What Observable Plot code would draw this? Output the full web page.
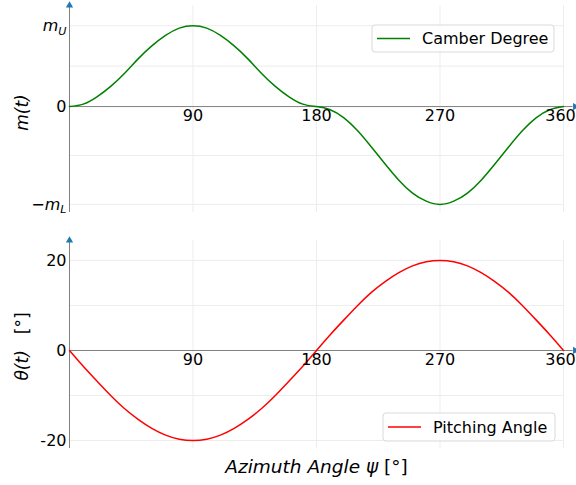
<!DOCTYPE html>
<html>
<head>
<meta charset="utf-8">
<script src="https://cdn.jsdelivr.net/npm/d3@7"></script>
<script src="https://cdn.jsdelivr.net/npm/@observablehq/plot@0.6"></script>
<style>
  body { margin: 0; background: #fff; }
  #chart { width: 576px; height: 485px; }
  #chart svg { display: block; font-family: "DejaVu Sans", sans-serif; background: #fff; }
</style>
</head>
<body>
<div id="chart"></div>
<script>
// Azimuth angle samples (degrees)
const psi = [0, 10, 20, 30, 40, 50, 60, 70, 80, 90, 100, 110, 120, 130, 140, 150, 160, 170, 180,
             190, 200, 210, 220, 230, 240, 250, 260, 270, 280, 290, 300, 310, 320, 330, 340, 350, 360];

// Camber degree m(t), in units of the upper camber m_U
const camber = [0, 0.03, 0.12, 0.25, 0.41, 0.59, 0.75, 0.88, 0.97, 1.00, 0.97, 0.88, 0.75, 0.59, 0.41, 0.25, 0.12, 0.03, 0,
                -0.04, -0.14, -0.30, -0.50, -0.71, -0.91, -1.07, -1.17, -1.21, -1.17, -1.07, -0.91, -0.71, -0.50, -0.30, -0.14, -0.04, 0];

// Pitching angle θ(t) in degrees
const pitch = [0, -3.5, -6.8, -10, -12.9, -15.3, -17.3, -18.8, -19.7, -20, -19.7, -18.8, -17.3, -15.3, -12.9, -10, -6.8, -3.5, 0,
               3.5, 6.8, 10, 12.9, 15.3, 17.3, 18.8, 19.7, 20, 19.7, 18.8, 17.3, 15.3, 12.9, 10, 6.8, 3.5, 0];

const mU = 1, mL = 1.21;
const xTicks = [90, 180, 270, 360];
const camberTicks = [mU, 0, -mL];
const camberTickLabels = ["mU", "0", "−mL"];
const camberGrid = [mU, mU / 2, -mL / 2, -mL];
const pitchTicks = [20, 0, -20];
const pitchTickLabels = ["20", "0", "-20"];
const pitchGrid = [20, 10, -10, -20];

const W = 576;
const gridColor = "#ebebeb", axisColor = "#808080", arrowColor = "#1f77b4";
const tickFont = 16;

function panel({values, color, height, marginTop, marginBottom, yDomain, ticks, tickLabels, grid, extra}) {
  const rows = psi.map((p, i) => ({psi: p, v: values[i]}));
  const lastTick = xTicks[xTicks.length - 1];
  return Plot.plot({
    width: W, height, marginLeft: 69, marginRight: 13, marginTop, marginBottom,
    x: {domain: [0, 360], axis: null},
    y: {domain: yDomain, axis: null},
    marks: [
      Plot.ruleY(grid, {x1: 0, x2: 360, stroke: gridColor, strokeWidth: 0.9}),
      Plot.ruleX(xTicks, {stroke: gridColor, strokeWidth: 0.9}),
      Plot.ruleX([0], {stroke: axisColor, strokeWidth: 1}),
      Plot.ruleY([0], {x1: 0, x2: 367, stroke: axisColor, strokeWidth: 1}),
      Plot.line(rows, {x: "psi", y: "v", stroke: color, strokeWidth: 1.5, curve: "natural"}),
      Plot.dot([yDomain[1]], {x: 0, y: d => d, symbol: "triangle", r: 2.7, fill: arrowColor}),
      Plot.dot([0], {x: 368.5, y: 0, symbol: "triangle", r: 2.7, rotate: 90, fill: arrowColor}),
      // x tick labels sit just under the zero line; the last one is nudged inside the edge
      Plot.text(xTicks.slice(0, -1), {x: d => d, y: 0, text: d => String(d), dy: 9, fontSize: tickFont, fill: "#000"}),
      Plot.text([lastTick], {x: d => d, y: 0, text: d => String(d), dy: 9, dx: -3, fontSize: tickFont, fill: "#000"}),
      Plot.text(ticks, {x: 0, y: d => d, text: (d, i) => tickLabels[i], textAnchor: "end", dx: -3, fontSize: tickFont, fill: "#000"}),
      ...extra
    ]
  });
}

const camberPanel = panel({
  values: camber, color: "#008000", height: 228, marginTop: 5, marginBottom: 16,
  yDomain: [-1.31, 1.25], ticks: camberTicks, tickLabels: camberTickLabels, grid: camberGrid,
  extra: [
    Plot.text(["m(t)"], {frameAnchor: "left", textAnchor: "middle", lineAnchor: "middle", rotate: -90,
                         dx: -47, dy: 3.5, fontSize: 17, fontStyle: "italic", fill: "#000"})
  ]
});

const pitchPanel = panel({
  values: pitch, color: "#ff0000", height: 257, marginTop: 12, marginBottom: 37,
  yDomain: [-21.78, 24.44], ticks: pitchTicks, tickLabels: pitchTickLabels, grid: pitchGrid,
  extra: [
    Plot.text(["θ(t) [°]"], {frameAnchor: "left", textAnchor: "middle", lineAnchor: "middle", rotate: -90,
                             dx: -47, dy: 2, fontSize: 17, fill: "#000"}),
    Plot.text(["Azimuth Angle ψ [°]"], {frameAnchor: "bottom", lineAnchor: "middle", dy: 19, fontSize: 18.5, fill: "#000"})
  ]
});

// Rich text: italics and subscripts for math labels
function richText(svg) {
  d3.select(svg).selectAll("text").each(function () {
    const t = this.textContent;
    const sel = d3.select(this);
    const parts = {
      "mU": [["m", "italic"], ["U", "italic", "sub"]],
      "−mL": [["−", "normal"], ["m", "italic"], ["L", "italic", "sub"]],
      "θ(t) [°]": [["θ(t)", "italic"], ["[°]", "normal", null, 16]],
      "Azimuth Angle ψ [°]": [["Azimuth Angle ψ", "italic"], ["\u00a0[°]", "normal"]]
    }[t];
    if (!parts) return;
    sel.text(null);
    for (const [s, style, sub, gap] of parts) {
      const ts = sel.append("tspan").attr("font-style", style).text(s);
      if (sub) ts.attr("font-size", "0.7em").attr("dy", "0.35em");
      if (gap) ts.attr("dx", gap);
    }
  });
}

function legend(svg, {x, y, w, h, label, color}) {
  const g = d3.select(svg).append("g");
  g.append("rect").attr("x", x).attr("y", y).attr("width", w).attr("height", h)
    .attr("rx", 3).attr("fill", "#fff").attr("fill-opacity", 0.9)
    .attr("stroke", "#d9d9d9").attr("stroke-width", 1);
  const cy = y + h / 2;
  g.append("line").attr("x1", x + 5).attr("x2", x + 38).attr("y1", cy).attr("y2", cy)
    .attr("stroke", color).attr("stroke-width", 1.5);
  g.append("text").attr("x", x + 50).attr("y", cy)
    .attr("text-anchor", "start").attr("dy", "0.35em")
    .attr("font-size", 16).attr("fill", "#000").text(label);
}

richText(camberPanel);
richText(pitchPanel);
legend(camberPanel, {x: 372, y: 25, w: 182, h: 27, label: "Camber Degree", color: "#008000"});
legend(pitchPanel, {x: 383, y: 185, w: 172, h: 28, label: "Pitching Angle", color: "#ff0000"});

document.getElementById("chart").append(camberPanel, pitchPanel);
</script>
</body>
</html>
